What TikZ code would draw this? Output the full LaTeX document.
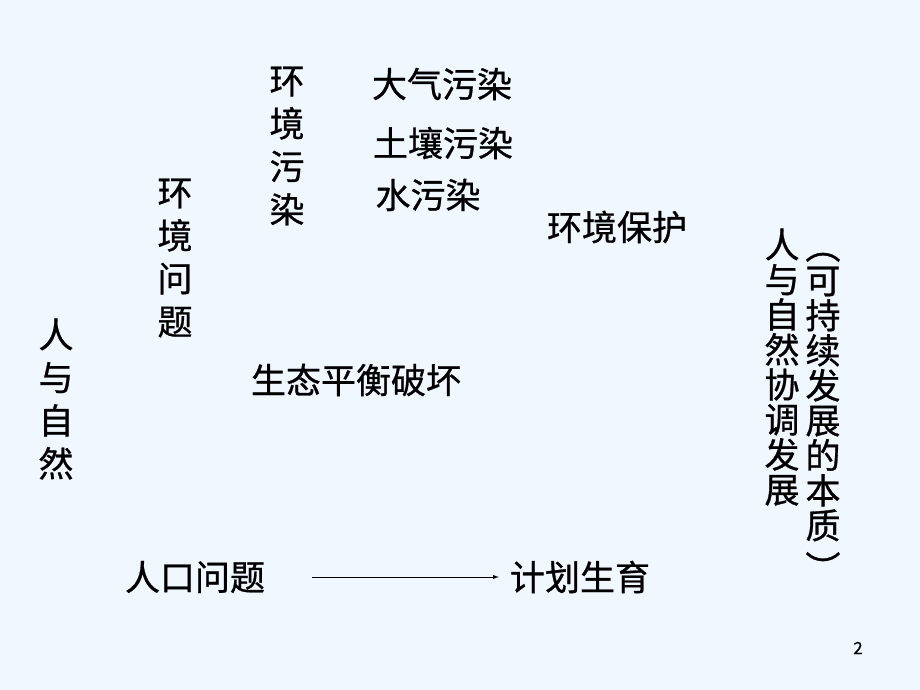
\documentclass[tikz,border=0pt]{standalone}
\usepackage{fontspec}
\setmainfont{Noto Sans CJK SC}[UprightFeatures={FakeBold=0.8}]
\usepackage{tikz}
\definecolor{bg}{RGB}{240,247,255}

\begin{document}
\begin{tikzpicture}[x=1pt,y=-1pt,
  t/.style={inner sep=0pt, font=\fontsize{35}{35}\selectfont},
  c/.style={inner sep=0pt, align=center, font=\fontsize{35}{43}\selectfont},
  r/.style={inner sep=0pt, align=center, font=\fontsize{35}{35}\selectfont}]
  \fill[bg] (0,0) rectangle (920,690);
  \useasboundingbox (0,0) rectangle (920,690);
  \node[c] (a) at ( 56, 399) {人\\与\\自\\然};
  \node[c] (b) at (175, 258) {环\\境\\问\\题};
  \node[c] (c) at (287, 146) {环\\境\\污\\染};
  \node[t] (d) at (442,  84) {大气污染};
  \node[t] (e) at (443, 143) {土壤污染};
  \node[t] (f) at (428, 195) {水污染};
  \node[t] (g) at (617, 227) {环境保护};
  \node[t] (h) at (356, 380) {生态平衡破坏};
  \node[r] (i) at (782, 367) {人\\与\\自\\然\\协\\调\\发\\展};
  \node[r] (j) at (823, 404) {可\\持\\续\\发\\展\\的\\本\\质};
  \node[t] (x) at (823, 246) {\rotatebox{-90}{（}};
  \node[t] (x) at (823, 568) {\rotatebox{-90}{）}};
  \node[t] (k) at (195, 577) {人口问题};
  \node[t] (l) at (580, 577) {计划生育};
  \node[inner sep=0pt, font=\fontsize{17}{17}\selectfont] (m) at (858, 648) {2};
  \draw [-latex, line width=1pt, shorten <=47pt, shorten >=11pt] (k) -- (l);
\end{tikzpicture}
\end{document}
